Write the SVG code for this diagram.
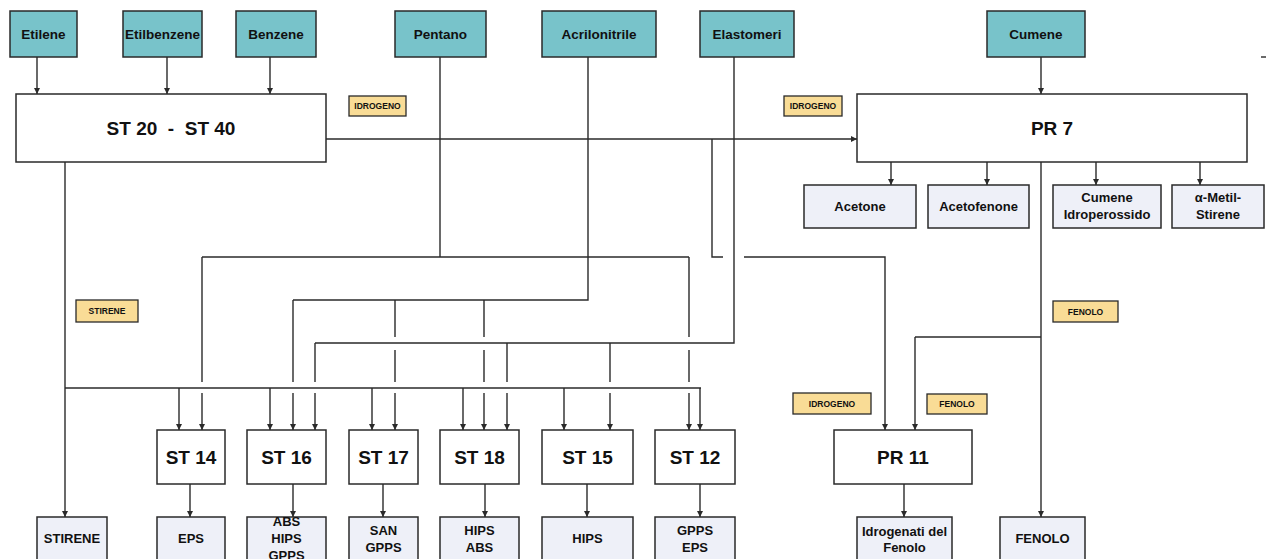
<svg xmlns="http://www.w3.org/2000/svg" width="1267" height="559" viewBox="0 0 1267 559">
<style>
.feed{fill:#78c3ca;stroke:#2a2a2a;stroke-width:1.5}
.proc{fill:#ffffff;stroke:#2a2a2a;stroke-width:1.5}
.prod{fill:#eef0f8;stroke:#2a2a2a;stroke-width:1.5}
.tag{fill:#f9dc96;stroke:#2a2a2a;stroke-width:1.3}
text{font-family:"Liberation Sans",Arial,sans-serif;font-weight:bold;fill:#111;text-anchor:middle}
.t1{font-size:13.5px}
.t2{font-size:19px}
.t3{font-size:13px}
.t4{font-size:8.5px}
.ln{fill:none;stroke:#2a2a2a;stroke-width:1.4}
.ar{fill:none;stroke:#2a2a2a;stroke-width:1.4;marker-end:url(#ah)}
</style>
<defs>
<marker id="ah" markerUnits="userSpaceOnUse" markerWidth="7" markerHeight="7" refX="6" refY="3" orient="auto">
<path d="M0,0 L6,3 L0,6 Z" fill="#2a2a2a"/>
</marker>
</defs>

<g id="connectors">
<!-- feeds into ST20-ST40 -->
<path class="ar" d="M37,57 V94"/>
<path class="ar" d="M167,57 V94"/>
<path class="ar" d="M270,57 V94"/>
<!-- ST20 to PR7 -->
<path class="ar" d="M326,139 H857"/>
<!-- Cumene to PR7 -->
<path class="ar" d="M1041,57 V94"/>
<!-- PR7 outputs -->
<path class="ar" d="M891,162 V185"/>
<path class="ar" d="M987,162 V185"/>
<path class="ar" d="M1096,162 V185"/>
<path class="ar" d="M1200,162 V185"/>
<path class="ar" d="M1041,162 V517"/>
<!-- Fenolo to PR11 -->
<path class="ln" d="M1041,337 H915"/>
<path class="ar" d="M915,337 V430"/>
<!-- Idrogeno to PR11 -->
<path class="ln" d="M712,139 V257 H723"/>
<path class="ar" d="M744,257 H885 V430"/>
<!-- Pentano -->
<path class="ln" d="M440,57 V257"/>
<path class="ln" d="M202,257 H689"/>
<path class="ln" d="M202,257 V382"/>
<path class="ar" d="M202,393 V430"/>
<path class="ln" d="M689,257 V337 M689,350 V382"/>
<path class="ar" d="M689,393 V430"/>
<!-- Acrilonitrile -->
<path class="ln" d="M588,57 V300 H293"/>
<path class="ln" d="M293,300 V382"/>
<path class="ar" d="M293,393 V430"/>
<path class="ln" d="M395,300 V337 M395,350 V382"/>
<path class="ar" d="M395,393 V430"/>
<path class="ln" d="M484,300 V337 M484,350 V382"/>
<path class="ar" d="M484,393 V430"/>
<!-- Elastomeri -->
<path class="ln" d="M734,57 V343 H315"/>
<path class="ln" d="M315,343 V382"/>
<path class="ar" d="M315,393 V430"/>
<path class="ln" d="M507,343 V382"/>
<path class="ar" d="M507,393 V430"/>
<path class="ln" d="M610,343 V382"/>
<path class="ar" d="M610,393 V430"/>
<!-- Stirene -->
<path class="ar" d="M65,162 V517"/>
<path class="ln" d="M65,388 H701"/>
<path class="ar" d="M179,388 V430"/>
<path class="ar" d="M270,388 V430"/>
<path class="ar" d="M372,388 V430"/>
<path class="ar" d="M463,388 V430"/>
<path class="ar" d="M564,388 V430"/>
<path class="ar" d="M700,388 V430"/>
<!-- ST outputs -->
<path class="ar" d="M190,484 V517"/>
<path class="ar" d="M293,484 V517"/>
<path class="ar" d="M383,484 V517"/>
<path class="ar" d="M485,484 V517"/>
<path class="ar" d="M587,484 V517"/>
<path class="ar" d="M700,484 V517"/>
<path class="ar" d="M904,484 V517"/>
<path class="ln" d="M1261,57 H1266" stroke-width="1"/>
</g>

<g id="feed-etilene"><rect class="feed" x="10" y="11" width="67" height="46"/><text class="t1" x="43.5" y="39">Etilene</text></g>
<g id="feed-etilbenzene"><rect class="feed" x="123" y="11" width="79" height="46"/><text class="t1" x="162.5" y="39">Etilbenzene</text></g>
<g id="feed-benzene"><rect class="feed" x="236" y="11" width="80" height="46"/><text class="t1" x="276" y="39">Benzene</text></g>
<g id="feed-pentano"><rect class="feed" x="395" y="11" width="91" height="46"/><text class="t1" x="440.5" y="39">Pentano</text></g>
<g id="feed-acrilonitrile"><rect class="feed" x="542" y="11" width="114" height="46"/><text class="t1" x="599" y="39">Acrilonitrile</text></g>
<g id="feed-elastomeri"><rect class="feed" x="700" y="11" width="94" height="46"/><text class="t1" x="747" y="39">Elastomeri</text></g>
<g id="feed-cumene"><rect class="feed" x="987" y="11" width="98" height="46"/><text class="t1" x="1036" y="39">Cumene</text></g>

<g id="st20-st40"><rect class="proc" x="16" y="94" width="310" height="68"/><text class="t2" x="171" y="135" xml:space="preserve">ST 20  -  ST 40</text></g>
<g id="pr7"><rect class="proc" x="857" y="94" width="390" height="68"/><text class="t2" x="1052" y="135">PR 7</text></g>

<g id="tag-idrogeno-1"><rect class="tag" x="349" y="96" width="57" height="20"/><text class="t4" x="377.5" y="109">IDROGENO</text></g>
<g id="tag-idrogeno-2"><rect class="tag" x="784" y="96" width="58" height="20"/><text class="t4" x="813" y="109">IDROGENO</text></g>
<g id="tag-stirene"><rect class="tag" x="76" y="300" width="62" height="22"/><text class="t4" x="107" y="314">STIRENE</text></g>
<g id="tag-fenolo-1"><rect class="tag" x="1053" y="301" width="65" height="21"/><text class="t4" x="1085.5" y="314.5">FENOLO</text></g>
<g id="tag-idrogeno-3"><rect class="tag" x="793" y="393" width="78" height="21"/><text class="t4" x="832" y="406.5">IDROGENO</text></g>
<g id="tag-fenolo-2"><rect class="tag" x="927" y="394" width="60" height="20"/><text class="t4" x="957" y="407">FENOLO</text></g>

<g id="acetone"><rect class="prod" x="804" y="185" width="112" height="43"/><text class="t3" x="860" y="211">Acetone</text></g>
<g id="acetofenone"><rect class="prod" x="928" y="185" width="101" height="43"/><text class="t3" x="978.5" y="211">Acetofenone</text></g>
<g id="cumene-idroperossido"><rect class="prod" x="1053" y="185" width="108" height="43"/><text class="t3" x="1107" y="202">Cumene</text><text class="t3" x="1107" y="219">Idroperossido</text></g>
<g id="metil-stirene"><rect class="prod" x="1172" y="185" width="92" height="43"/><text class="t3" x="1218" y="202">α-Metil-</text><text class="t3" x="1218" y="219">Stirene</text></g>

<g id="st14"><rect class="proc" x="157" y="430" width="68" height="54"/><text class="t2" x="191" y="464">ST 14</text></g>
<g id="st16"><rect class="proc" x="247" y="430" width="79" height="54"/><text class="t2" x="286.5" y="464">ST 16</text></g>
<g id="st17"><rect class="proc" x="349" y="430" width="69" height="54"/><text class="t2" x="383.5" y="464">ST 17</text></g>
<g id="st18"><rect class="proc" x="440" y="430" width="79" height="54"/><text class="t2" x="479.5" y="464">ST 18</text></g>
<g id="st15"><rect class="proc" x="542" y="430" width="91" height="54"/><text class="t2" x="587.5" y="464">ST 15</text></g>
<g id="st12"><rect class="proc" x="655" y="430" width="80" height="54"/><text class="t2" x="695" y="464">ST 12</text></g>
<g id="pr11"><rect class="proc" x="834" y="430" width="138" height="54"/><text class="t2" x="903" y="464">PR 11</text></g>

<g id="out-stirene"><rect class="prod" x="37" y="517" width="70" height="60"/><text class="t3" x="72" y="543">STIRENE</text></g>
<g id="out-eps"><rect class="prod" x="157" y="517" width="68" height="60"/><text class="t3" x="191" y="543">EPS</text></g>
<g id="out-abs-hips-gpps"><rect class="prod" x="247" y="517" width="79" height="60"/><text class="t3" x="286.5" y="526">ABS</text><text class="t3" x="286.5" y="543">HIPS</text><text class="t3" x="286.5" y="560">GPPS</text></g>
<g id="out-san-gpps"><rect class="prod" x="349" y="517" width="69" height="60"/><text class="t3" x="383.5" y="535">SAN</text><text class="t3" x="383.5" y="551.5">GPPS</text></g>
<g id="out-hips-abs"><rect class="prod" x="440" y="517" width="79" height="60"/><text class="t3" x="479.5" y="535">HIPS</text><text class="t3" x="479.5" y="551.5">ABS</text></g>
<g id="out-hips"><rect class="prod" x="542" y="517" width="91" height="60"/><text class="t3" x="587.5" y="543">HIPS</text></g>
<g id="out-gpps-eps"><rect class="prod" x="655" y="517" width="80" height="60"/><text class="t3" x="695" y="535">GPPS</text><text class="t3" x="695" y="551.5">EPS</text></g>
<g id="out-idrogenati"><rect class="prod" x="857" y="517" width="95" height="60"/><text class="t3" x="904.5" y="535.5">Idrogenati del</text><text class="t3" x="904.5" y="552">Fenolo</text></g>
<g id="out-fenolo"><rect class="prod" x="1000" y="517" width="85" height="60"/><text class="t3" x="1042.5" y="543">FENOLO</text></g>
</svg>
